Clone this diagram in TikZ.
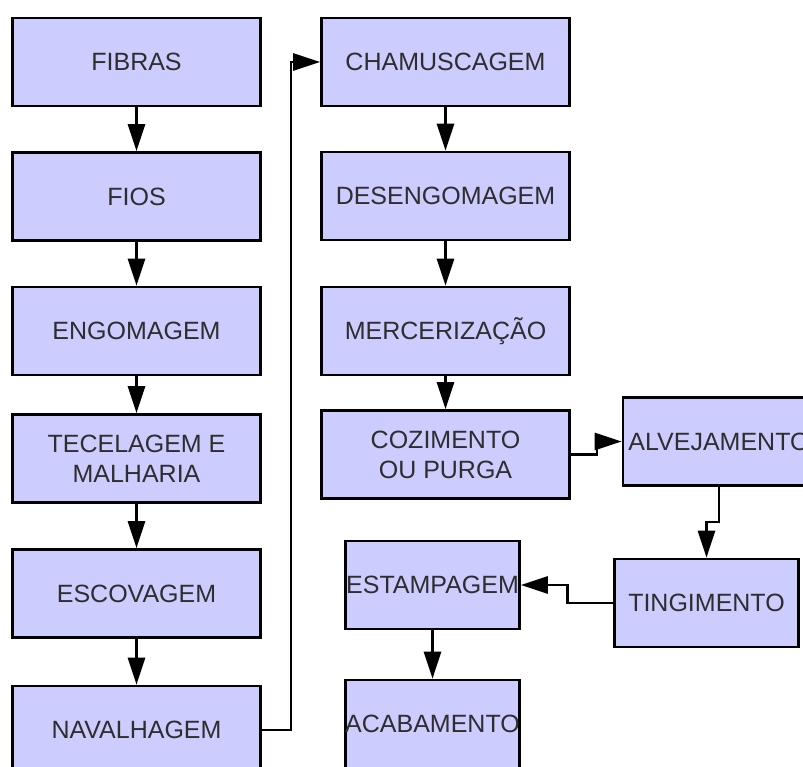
\documentclass[tikz,border=0pt]{standalone}
\usepackage{fontspec}
\setmainfont{Liberation Sans}
\usetikzlibrary{arrows.meta}
\definecolor{boxfill}{HTML}{CCCCFF}
\definecolor{boxtext}{HTML}{2E2E2E}
\begin{document}
\begin{tikzpicture}[x=1pt,y=1pt,
  stage/.style={draw=black, line width=2.6pt, fill=boxfill, text=boxtext,
    inner sep=0pt, align=center, font=\fontsize{25}{30}\selectfont,
    minimum height=88pt},
  wide/.style={stage, minimum width=248pt},
  flow/.style={draw=black, line width=2.6pt,
    -{Triangle[length=27pt,width=17pt]}}
]
\useasboundingbox (0,0) rectangle (803,-767);
\fill[white] (0,0) rectangle (803,-767);
\clip (0,0) rectangle (803,-767);

% first column: from fibre to shaved fabric
\node[wide] (fibras) at (136.5,-62)    {FIBRAS};
\node[wide] (fios)   at (136.5,-196.5) {FIOS};
\node[wide] (engom)  at (136.5,-331)   {ENGOMAGEM};
\node[wide] (tecel)  at (136.5,-458.5) {TECELAGEM E\\MALHARIA};
\node[wide] (escov)  at (136.5,-593.5) {ESCOVAGEM};
\node[wide] (naval)  at (136.5,-730)   {NAVALHAGEM};

% second column: preparation
\node[wide] (chamus) at (445.5,-62)    {CHAMUSCAGEM};
\node[wide] (deseng) at (445.5,-196)   {DESENGOMAGEM};
\node[wide] (merc)   at (445.5,-331)   {MERCERIZAÇÃO};
\node[wide] (cozim)  at (445.5,-454.5) {COZIMENTO\\OU PURGA};

% finishing steps
\node[stage, minimum width=192pt] (alvej) at (719,-441.5) {ALVEJAMENTO};
\node[stage, minimum width=184pt] (ting)  at (706.5,-603)  {TINGIMENTO};
\node[stage, minimum width=174pt] (estam) at (432.5,-585)  {ESTAMPAGEM};
\node[stage, minimum width=174pt] (acab)  at (432.5,-724)  {ACABAMENTO};

% connectors
\draw[flow] (fibras) -- (fios);
\draw[flow] (fios) -- (engom);
\draw[flow] (engom) -- (tecel);
\draw[flow] (tecel) -- (escov);
\draw[flow] (escov) -- (naval);
\draw[flow] (naval.east) -- ++(29,0) |- (chamus.west);
\draw[flow] (chamus) -- (deseng);
\draw[flow] (deseng) -- (merc);
\draw[flow] (merc) -- (cozim);
\draw[flow] (cozim.east) -- ++(26,0) |- (alvej.west);
\draw[flow] (alvej.south) -- ++(0,-35) -| (ting.north);
\draw[flow] (ting.west) -- ++(-46,0) |- (estam.east);
\draw[flow] (estam) -- (acab);
\end{tikzpicture}
\end{document}
